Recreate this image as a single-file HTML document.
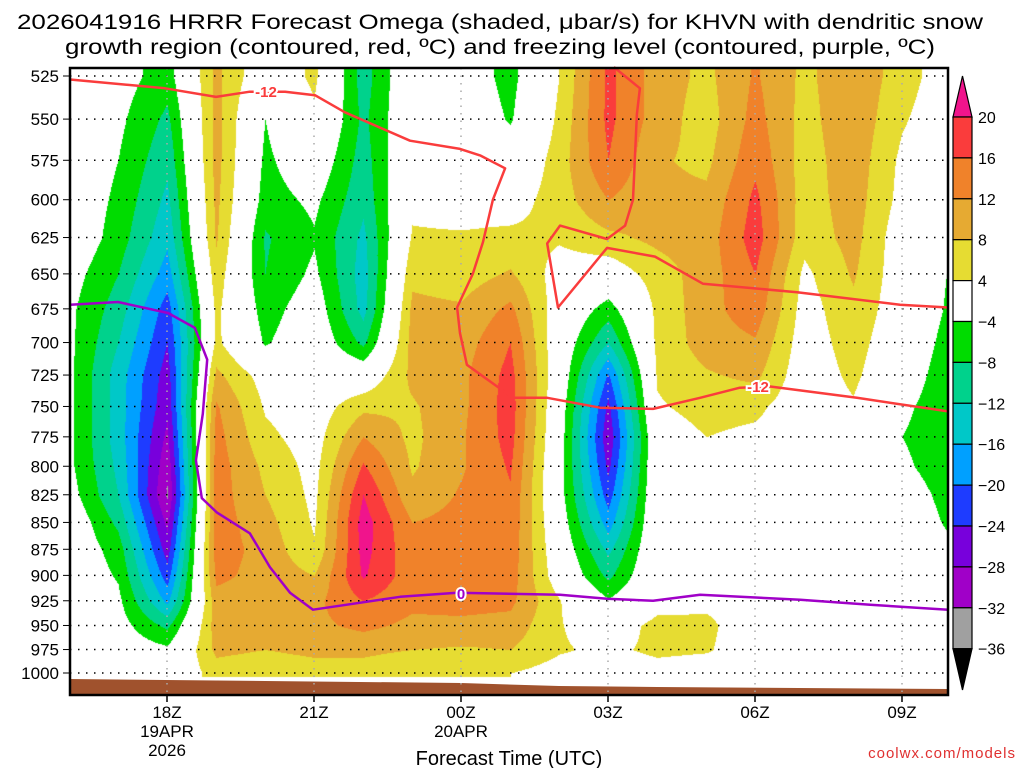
<!DOCTYPE html>
<html><head><meta charset="utf-8"><style>
body{margin:0;background:#fff;width:1024px;height:768px;overflow:hidden;font-family:"Liberation Sans",sans-serif;}
#wrap{position:relative;width:1024px;height:768px;}
canvas{position:absolute;left:0;top:0;}
svg{position:absolute;left:0;top:0;}
</style></head><body>
<div id="wrap">
<canvas id="cv" width="1024" height="768"></canvas>
<svg id="sv" width="1024" height="768"></svg>
</div>
<script>
const hours=["16Z","17Z","18Z","19Z","20Z","21Z","22Z","23Z","00Z","01Z","02Z","03Z","04Z","05Z","06Z","07Z","08Z","09Z","10Z"];
const levels=[525,550,575,600,625,650,675,700,725,750,775,800,825,850,875,900,925,950,975,1000];
const om16=[0,0,0,0,0,-2,-3,-3,-3,-3,-3,-3,-2,0,0,0,0,0,0,0];
const om17=[-2,-3,-4,-5,-6,-8,-10,-12,-14,-14,-14,-13,-12,-9,-6,-4.5,-3,-2,-1,0];
const om18=[-6,-9,-11,-13,-15,-18,-22,-24,-26,-27,-29,-31,-32.5,-29,-26,-22,-17,-9,-3,-1];
const om19=[9,9.5,9.5,9,8.5,6.5,5,5,9,12.5,13.5,14,14,14,14,13,10.5,10,9,6];
const om20=[0,-4,-5,-6,-8.5,-8,-6,-4.5,2,3.5,5,7,8,9.5,10.5,10.5,10,9.5,8,5];
const om21=[5,3,0,-3,-4.5,-3,-1,0,1,1.5,2,2.5,3,3.5,4.5,8,11,11,9,6];
const om22=[-10,-9,-10,-11,-13,-14,-13.5,-9,0,7,12,16.5,20,22,21.5,20.5,16,13,9,6];
const om23=[1,1,2,3,4.5,7,9,9.5,9,7.5,7,7.5,9,12,13,13.5,13,11,8,4];
const om00=[-1,0,1,2,4.5,6,8.5,10,11,11,11.5,11.5,12.5,13.5,14,14,13.5,11,7.5,4.5];
const om01=[-5.5,-4.5,-1,2,5,8.5,13,16,17.5,18,17.5,16.5,15.5,15,14.5,14,13,10.5,8,4];
const om02=[4,5,6,6,4.5,2,1,0,0,-1,-1.5,-2,-2,-1,0,1,4.3,4.3,4.5,2];
const om03=[17,17,16,12,7,1,-6,-12,-20.5,-25,-27,-25,-22,-18,-13,-9,-3.5,1,3,1];
const om04=[10,10,8.5,9,9,6,5,5,4.5,3.5,1.5,1.5,1.5,1.5,1.5,1.5,2,5.5,5,2];
const om05=[7,6,7,9,10,10,10.5,10,7.5,5.5,4,3,2,2,2,2,3,5,4.5,1];
const om06=[12.5,13.5,15,17,18,16,14.5,11.5,9,5,3,2,2,2,2,2,2,1,1,1];
const om07=[7,6.5,6,6,5.5,3,2,1.5,1,1,1,1,1,1,1,1,1,1,1,1];
const om08=[11,11,10.5,10,9.5,8.5,7,6,5,3.5,2,1,1,1,1,1,1,1,1,1];
const om09=[6,4.5,3,2.5,1,1,1,0,-1,-3,-4,-3,-1,0,0,0,0,0,0,0];
const om10=[1,0.5,0,0,-2,-4.5,-5,-6,-7,-7,-7,-7,-6,-5,-3,0,0,0,0,0];
const omegaCols=[om16,om17,om18,om19,om20,om21,om22,om23,om00,om01,om02,om03,om04,om05,om06,om07,om08,om09,om10];
const cbLevels=[20,16,12,8,4,-4,-8,-12,-16,-20,-24,-28,-32,-36];
const cbColors=["#f0148c","#fa3c3c","#f0822a","#e6aa32","#e6dc32","#ffffff","#00dc00","#00d28c","#00c8c8","#00a0ff","#1e3cff","#7800dc","#a000c8","#a0a0a0","#000000"];
// red -12C contour (hour offset from 16Z, pressure)
const red1H=[0.02,1.96,3.0,3.69,4.41,5.02,5.63,6.96,7.98,8.39,8.9,8.65,8.45,8.24,7.92,7.98,8.12,9.06,9.76,10.84,11.92,12.88,13.69,14.31,16.08,17.94];
const red1P=[527,532,537,534,534,536,546,563,568,572,580,600,628,650,674,693,717,743,743,751,752,743,735,734,743,754];
const red2H=[11.12,11.65,11.59,11.51,11.35,10.98,10.02,9.76,9.98,10.98,11.96,12.94,14.86,16.96,17.94];
const red2P=[520,532,547,600,617,626,617,629,674,632,638,657,663,672,674];
const purH=[0.02,1.0,2.02,2.57,2.82,2.73,2.59,2.71,3.02,3.69,4.1,4.51,4.98,6.76,7.92,10.02,10.98,11.92,12.88,14.92,16.35,17.94];
const purP=[672,670,678,689,713,756,795,828,841,860,892,917,934,921,917,919,923,925,919,924,929,934];
const hourTicks=[2,5,8,11,14,17];
const hourLabels=["18Z","21Z","00Z","03Z","06Z","09Z"];
const terrH=[0,4,8,10,12,18];
const terrY=[679,681,683,686,687,689];

const X0=69,PX=49,PL=70,PR=948,PT=68,PB=695;
const lnR=Math.log(1000/525);
function xOf(h){return X0+h*PX;}
function yOf(p){return 673-(Math.log(1000/p)/lnR)*597;}
function colorOf(v){
  if(v>=20)return cbColors[0];
  for(let i=1;i<cbLevels.length;i++){if(v>=cbLevels[i])return cbColors[i];}
  return cbColors[14];
}
function hex(c){return [parseInt(c.substr(1,2),16),parseInt(c.substr(3,2),16),parseInt(c.substr(5,2),16)];}

const cv=document.getElementById('cv');const ctx=cv.getContext('2d');
const ys=levels.map(yOf);
const img=ctx.createImageData(PR-PL,677-PT);
for(let py=PT;py<677;py++){
  let yy=Math.min(Math.max(py,ys[0]),ys[ys.length-1]);
  let r=0;while(r<ys.length-2&&ys[r+1]<yy)r++;
  const ty=(yy-ys[r])/(ys[r+1]-ys[r]);
  for(let px=PL;px<PR;px++){
    let h=(px-X0)/PX;h=Math.min(Math.max(h,0),hours.length-1);
    let c=Math.min(Math.floor(h),hours.length-2);const tx=h-c;
    const a=omegaCols[c][r]*(1-ty)+omegaCols[c][r+1]*ty;
    const b=omegaCols[c+1][r]*(1-ty)+omegaCols[c+1][r+1]*ty;
    const v=a*(1-tx)+b*tx;
    const rgb=hex(colorOf(v));
    const k=((py-PT)*(PR-PL)+(px-PL))*4;
    img.data[k]=rgb[0];img.data[k+1]=rgb[1];img.data[k+2]=rgb[2];img.data[k+3]=255;
  }
}
ctx.putImageData(img,PL,PT);

const NS="http://www.w3.org/2000/svg";const sv=document.getElementById('sv');
function mk(tag,attrs,parent){const e=document.createElementNS(NS,tag);for(const k in attrs)e.setAttribute(k,attrs[k]);(parent||sv).appendChild(e);return e;}
function txt(s,attrs){const e=mk('text',attrs);e.textContent=s;return e;}

let tp="M"+PL+","+PB;
for(let i=0;i<terrH.length;i++){tp+=" L"+Math.min(Math.max(xOf(terrH[i]),PL),PR)+","+terrY[i];}
tp+=" L"+PR+","+PB+" Z";
const terr=mk('path',{d:tp,fill:'#a0522d'});



levels.forEach(p=>{
  const g=mk('line',{x1:PL,x2:PR,y1:yOf(p),y2:yOf(p),stroke:'#000','stroke-width':1.5,'stroke-dasharray':'1.5,6.5'});
  
  
  const t=mk('line',{x1:63,x2:PL,y1:yOf(p),y2:yOf(p),stroke:'#000','stroke-width':1});
  
  
  const l=txt(String(p),{x:59,y:yOf(p)+6,'text-anchor':'end','font-size':17,fill:'#000'});
  
  
});
hourTicks.forEach((h,i)=>{
  const x=xOf(h);
  const g=mk('line',{x1:x,x2:x,y1:PT,y2:PB,stroke:'#aaa','stroke-width':1.5,'stroke-dasharray':'1.5,6'});
  
  
  const t=mk('line',{x1:x,x2:x,y1:PB,y2:PB+7,stroke:'#000','stroke-width':1.5});
  
  
  const l=txt(hourLabels[i],{x:x,y:718,'text-anchor':'middle','font-size':17});
  
  
});
[["19APR",2,737],["2026",2,756],["20APR",8,737]].forEach(d=>{
  const l=txt(d[0],{x:xOf(d[1]),y:d[2],'text-anchor':'middle','font-size':17});
  
  
});

function poly(H,P,col,name){
  const pts=H.map((h,i)=>xOf(h).toFixed(1)+","+yOf(P[i]).toFixed(1)).join(" ");
  const e=mk('polyline',{points:pts,fill:'none',stroke:col,'stroke-width':2.5,'stroke-linejoin':'round'});
  
  
}
poly(red1H,red1P,'#fa3c3c','dgz-contour-upper');
poly(red2H,red2P,'#fa3c3c','dgz-contour-loop');
poly(purH,purP,'#a000c8','freezing-level-contour');
function clabel(s,x,y,col,name){
  const l=txt(s,{x:x,y:y+6,'text-anchor':'middle','font-size':15,'font-weight':'bold',fill:col,stroke:'#fff','stroke-width':4,'paint-order':'stroke'});
  
  
}
clabel("-12",266,91,'#fa3c3c','contour-label-upper');
clabel("-12",758,386,'#fa3c3c','contour-label-lower');
clabel("0",461,593,'#a000c8','contour-label-freezing');

const fr=mk('rect',{x:PL,y:PT,width:PR-PL,height:PB-PT,fill:'none',stroke:'#000','stroke-width':2.5});



const CBX=953,CBW=19,CBT=117,CBS=40.9;
const up=mk('polygon',{points:`${CBX},${CBT} ${CBX+CBW/2},76 ${CBX+CBW},${CBT}`,fill:cbColors[0],stroke:'#000','stroke-width':1.2});


for(let i=1;i<cbLevels.length;i++){
  const r=mk('rect',{x:CBX,y:CBT+(i-1)*CBS,width:CBW,height:CBS,fill:cbColors[i],stroke:'#000','stroke-width':1.2});
  
  
}
const yb=CBT+(cbLevels.length-1)*CBS;
const dn=mk('polygon',{points:`${CBX},${yb} ${CBX+CBW/2},690 ${CBX+CBW},${yb}`,fill:'#000',stroke:'#000','stroke-width':1.2});


cbLevels.forEach((v,i)=>{
  const l=txt(v<0?"\u2212"+(-v):String(v),{x:978,y:CBT+i*CBS+6,'font-size':16});
  
  
});

const t1=txt("2026041916 HRRR Forecast Omega (shaded, \u03BCbar/s) for KHVN with dendritic snow",{x:500,y:29,'text-anchor':'middle','font-size':21.5,textLength:966,lengthAdjust:'spacingAndGlyphs'});


const t2=txt("growth region (contoured, red, \u00BAC) and freezing level (contoured, purple, \u00BAC)",{x:500,y:54,'text-anchor':'middle','font-size':21.5,textLength:870,lengthAdjust:'spacingAndGlyphs'});


const xt=txt("Forecast Time (UTC)",{x:509,y:765,'text-anchor':'middle','font-size':20});


const cr=txt("coolwx.com/models",{x:1016,y:758,'text-anchor':'end','font-size':15,fill:'#e03030','letter-spacing':'1'});


</script>
</body></html>
